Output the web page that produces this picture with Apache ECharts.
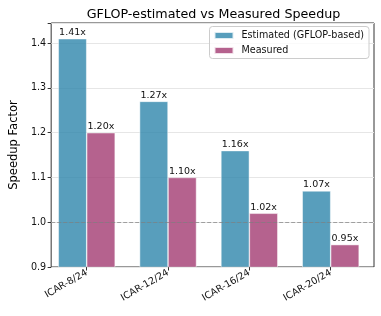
<!DOCTYPE html>
<html><head><meta charset="utf-8">
<script src="https://cdn.jsdelivr.net/npm/echarts@6/dist/echarts.min.js"></script>
<style>html,body{margin:0;padding:0;background:#fff}#c{width:381px;height:316px}</style>
</head><body><div id="c"></div>
<script>
const categories = ['ICAR-8/24', 'ICAR-12/24', 'ICAR-16/24', 'ICAR-20/24'];
const estimated = [1.41, 1.27, 1.16, 1.07];
const measured = [1.20, 1.10, 1.02, 0.95];
const yTicks = [0.9, 1.0, 1.1, 1.2, 1.3, 1.4];
const baseline = 1.0;

const FONT = 'DejaVu Sans';
const chart = echarts.init(document.getElementById('c'), null, {renderer: 'canvas'});
const Y_MIN = 0.9, Y_MAX = 1.445;
const isTick = v => yTicks.some(t => Math.abs(t - v) < 1e-6);

chart.setOption({
  animation: false,
  backgroundColor: '#fff',
  title: {
    text: 'GFLOP-estimated vs Measured Speedup',
    left: 208.5, textAlign: 'center', top: 3,
    textStyle: {fontFamily: FONT, fontSize: 12.7, fontWeight: 'normal', color: '#000'}
  },
  legend: {
    orient: 'vertical', right: 12, top: 26.5,
    itemWidth: 19, itemHeight: 7, itemGap: 5,
    padding: [4, 5, 3, 4],
    borderColor: '#cccccc', borderWidth: 1, borderRadius: 3,
    backgroundColor: 'rgba(255,255,255,0.8)',
    icon: 'rect',
    textStyle: {fontFamily: FONT, fontSize: 9.6, color: '#111', padding: [0, 0, 0, 3]},
    data: ['Estimated (GFLOP-based)', 'Measured']
  },
  grid: [
    {left: 46.05, right: 9.65, top: 23, bottom: 49},
    {left: 43, right: 7, top: 23, bottom: 49, show: true, borderColor: '#333', borderWidth: 1, backgroundColor: 'transparent'}
  ],
  xAxis: [
    {type: 'category', gridIndex: 0, data: categories,
     axisLine: {show: false},
     axisTick: {show: true, alignWithLabel: true, length: 3.5, lineStyle: {color: '#333'}},
     axisLabel: {rotate: 30, margin: 5, fontFamily: FONT, fontSize: 9.6, color: '#111'}},
    {type: 'value', gridIndex: 1, min: 0, max: 1, show: false}
  ],
  yAxis: [
    {type: 'value', gridIndex: 0, min: Y_MIN, max: Y_MAX, show: false},
    {type: 'value', gridIndex: 1, min: Y_MIN, max: Y_MAX, interval: 0.1,
     name: 'Speedup Factor', nameLocation: 'middle', nameGap: 31,
     nameTextStyle: {fontFamily: FONT, fontSize: 11.5, color: '#000'},
     axisLine: {show: false},
     axisTick: {show: true, length: 3.5, lineStyle: {color: '#333'}},
     axisLabel: {margin: 5, fontFamily: FONT, fontSize: 9.6, color: '#111',
       formatter: v => isTick(v) ? v.toFixed(1) : ''},
     splitLine: {show: true, lineStyle: {color: '#e6e6e6', width: 1}}}
  ],
  series: [
    {type: 'line', xAxisIndex: 1, yAxisIndex: 1, data: [], z: 1, silent: true,
     markLine: {symbol: 'none', silent: true, label: {show: false},
       lineStyle: {type: [4, 2], color: 'rgba(128,128,128,0.7)', width: 1.2},
       data: [{yAxis: baseline}]}},
    {name: 'Estimated (GFLOP-based)', type: 'bar', xAxisIndex: 0, yAxisIndex: 0,
     data: estimated, barGap: '0%', barCategoryGap: '30%', z: 3,
     itemStyle: {color: 'rgba(46,134,171,0.8)', borderColor: 'rgba(255,255,255,0.8)', borderWidth: 0.6},
     label: {show: true, position: 'top', distance: 1, fontFamily: FONT, fontSize: 9.5, color: '#111',
       formatter: p => p.value.toFixed(2) + 'x'}},
    {name: 'Measured', type: 'bar', xAxisIndex: 0, yAxisIndex: 0,
     data: measured, barGap: '0%', barCategoryGap: '30%', z: 3,
     itemStyle: {color: 'rgba(162,59,114,0.8)', borderColor: 'rgba(255,255,255,0.8)', borderWidth: 0.6},
     label: {show: true, position: 'top', distance: 1, fontFamily: FONT, fontSize: 9.5, color: '#111',
       formatter: p => p.value.toFixed(2) + 'x'}}
  ]
});
</script></body></html>
